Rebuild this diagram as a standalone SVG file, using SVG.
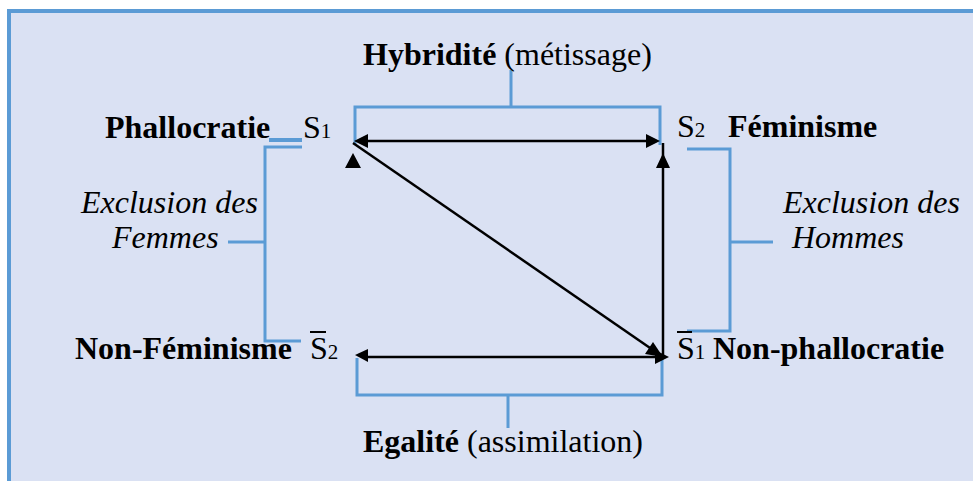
<svg xmlns="http://www.w3.org/2000/svg" width="973" height="481" viewBox="0 0 973 481">
<defs>
<style>
.t{font-family:"Liberation Serif","Times New Roman",serif;font-size:32px;fill:#000}
.b{font-weight:bold}
.i{font-style:italic}
.sub{font-size:21px}
.blue{fill:none;stroke:#5b9bd5;stroke-width:3}
.blk{fill:none;stroke:#000;stroke-width:2.5}
.head{fill:#000;stroke:none}
</style>
</defs>
<rect x="0" y="0" width="973" height="481" fill="#ffffff"/>
<rect x="9" y="11" width="980" height="480" fill="#dae1f3" stroke="#5b9bd5" stroke-width="4"/>

<g id="brackets">
<path class="blue" d="M355,145 V107 H660 V145 M511,107 V70"/>
<path class="blue" d="M357,358 V395 H662 V358 M508,395 V428"/>
<path class="blue" d="M302,147 H265 V341 H301 M228,242 H265"/>
<rect x="269" y="138" width="33" height="4" fill="#5b9bd5"/>
<path class="blue" d="M687,149 H730 V331 H687 M730,242 H773"/>
</g>

<g id="connectors">
<line class="blk" x1="366" y1="141" x2="647" y2="141"/>
<polygon class="head" points="354,141 368,134 368,148"/>
<polygon class="head" points="660,141 646,134 646,148"/>
<line class="blk" x1="353" y1="143" x2="653" y2="350"/>
<polygon class="head" points="663,357 645,354 653,342"/>
<line class="blk" x1="663" y1="357" x2="663" y2="143"/>
<polygon class="head" points="663,153 656,168 670,168"/>
<polygon class="head" points="353,153 345,168 361,168"/>
<line class="blk" x1="366" y1="357" x2="657" y2="357"/>
<polygon class="head" points="355,355 368,349 368,362"/>
<polygon class="head" points="669,357 655,350 655,364"/>
</g>

<g id="hybridite">
<text class="t" x="363" y="65"><tspan class="b">Hybridité</tspan> (métissage)</text>
</g>
<g id="egalite">
<text class="t" x="363" y="452"><tspan class="b">Egalité</tspan> (assimilation)</text>
</g>
<g id="s1">
<text class="t b" x="105" y="138">Phallocratie</text>
<text class="t" x="303" y="138">S<tspan class="sub">1</tspan></text>
</g>
<g id="s2">
<text class="t" x="677" y="137">S<tspan class="sub">2</tspan></text>
<text class="t b" x="728" y="137">Féminisme</text>
</g>
<g id="non-s2">
<text class="t b" x="75" y="359">Non-Féminisme</text>
<text class="t" x="310" y="359">S<tspan class="sub">2</tspan></text>
<line x1="310" y1="332" x2="326" y2="332" stroke="#000" stroke-width="2"/>
</g>
<g id="non-s1">
<text class="t" x="677" y="359">S<tspan class="sub">1</tspan></text>
<line x1="677" y1="332" x2="692" y2="332" stroke="#000" stroke-width="2"/>
<text class="t b" x="713" y="359">Non-phallocratie</text>
</g>
<g id="exclusion-femmes">
<text class="t i" x="81" y="213">Exclusion des</text>
<text class="t i" x="112" y="248">Femmes</text>
</g>
<g id="exclusion-hommes">
<text class="t i" x="783" y="213">Exclusion des</text>
<text class="t i" x="792" y="248">Hommes</text>
</g>
</svg>
